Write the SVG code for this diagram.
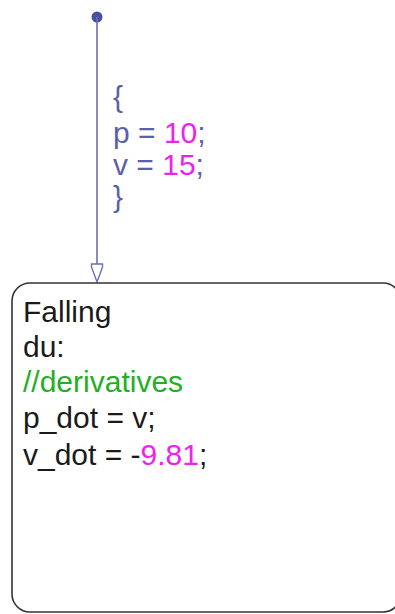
<svg xmlns="http://www.w3.org/2000/svg" width="395" height="614" viewBox="0 0 395 614">
<style>
text{font-family:"Liberation Sans",Arial,sans-serif;font-size:30px}
.lbl{fill:#5a61a8}
.num{fill:#ee22ee}
.txt{fill:#1a1a1a}
.cmt{fill:#22b022}
.conn{stroke:#6b70b5;stroke-width:1.6;fill:none}
</style>
<rect width="395" height="614" fill="#ffffff"/>
<g id="connectors">
<circle cx="97" cy="17" r="5.5" fill="#4a50a0"/>
<line class="conn" x1="97" y1="17" x2="97" y2="265"/>
<path d="M91.5,264 H102.5 V267 L97,282 L91.5,267 Z" fill="#ffffff" stroke="#6b70b5" stroke-width="1.4"/>
<g id="transition-label">
<text x="113" y="107" class="lbl">{</text>
<text x="113" y="143" class="lbl">p = <tspan class="num">10</tspan>;</text>
<text x="113" y="175" class="lbl">v = <tspan class="num">15</tspan>;</text>
<text x="113" y="207" class="lbl">}</text>
</g>
</g>
<g id="Falling">
<rect x="12" y="283" width="389" height="329" rx="18" ry="18" fill="none" stroke="#333333" stroke-width="1.6"/>
<text x="23" y="322" class="txt">Falling</text>
<text x="23" y="357" class="txt">du:</text>
<text x="23" y="392" class="cmt">//derivatives</text>
<text x="23" y="428" class="txt">p_dot = v;</text>
<text x="23" y="465" class="txt">v_dot = -<tspan class="num">9.81</tspan>;</text>
</g>
</svg>
